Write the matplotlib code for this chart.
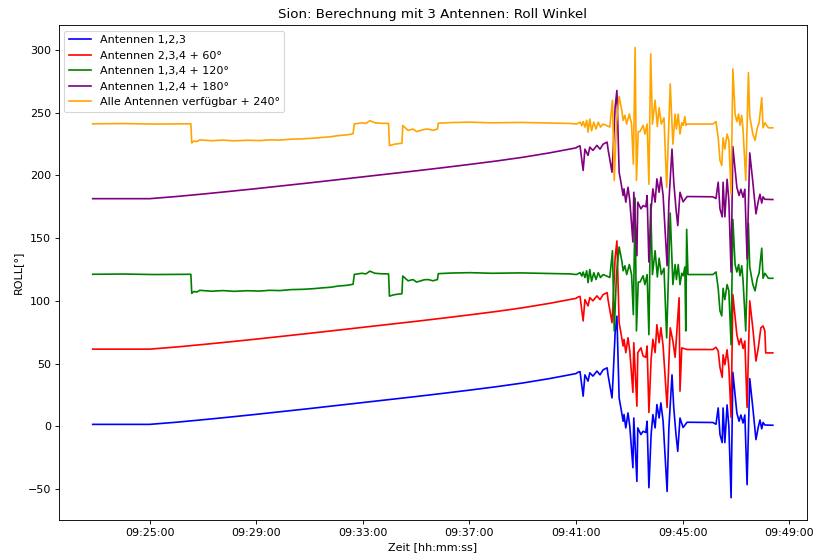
import numpy as np
import pandas as pd
import matplotlib
matplotlib.use("Agg")
import matplotlib.pyplot as plt
import matplotlib.dates as mdates

DAY = "2023-05-12 "

# ruhige Phase (Antennen 1,2,3 / 2,3,4 / 1,2,4 verlaufen gleich)
t_smooth = ["09:22:52", "09:25:00", "09:26:00", "09:27:00", "09:28:00", "09:29:00",
            "09:30:00", "09:31:00", "09:32:00", "09:33:00", "09:34:00", "09:35:00",
            "09:36:00", "09:37:00", "09:38:00", "09:39:00", "09:40:00"]
roll_smooth = [1.5, 1.5, 3.2, 5.2, 7.3, 9.5, 11.8, 14.1, 16.5, 18.9, 21.3, 23.7,
               26.2, 28.8, 31.5, 34.5, 38.0]

# Flugphase ab 09:41
t_a = ["09:41:00", "09:41:04", "09:41:09", "09:41:16", "09:41:20", "09:41:27", "09:41:31",
       "09:41:38", "09:41:47", "09:41:54", "09:42:01", "09:42:10", "09:42:12", "09:42:21",
       "09:42:23", "09:42:28", "09:42:32", "09:42:37", "09:42:41", "09:42:46", "09:42:48",
       "09:42:52", "09:42:57", "09:43:01", "09:43:08", "09:43:10", "09:43:17", "09:43:19",
       "09:43:26", "09:43:31", "09:43:37", "09:43:40", "09:43:44", "09:43:49", "09:43:53",
       "09:43:58", "09:44:02", "09:44:07", "09:44:11", "09:44:16", "09:44:25", "09:44:29",
       "09:44:36", "09:44:40", "09:44:45", "09:44:49", "09:44:54", "09:45:01", "09:45:10",
       "09:46:08", "09:46:15", "09:46:20", "09:46:24", "09:46:29", "09:46:31", "09:46:35",
       "09:46:40", "09:46:44", "09:46:49", "09:46:53", "09:47:02", "09:47:07", "09:47:11",
       "09:47:16", "09:47:20", "09:47:25", "09:47:31", "09:47:38", "09:47:45", "09:47:50",
       "09:47:54", "09:47:58", "09:48:01", "09:48:05", "09:48:23"]
roll_123 = [42.0, 43.0, 43.6, 24.0, 41.0, 36.0, 42.6, 40.0, 44.0, 41.0, 45.0, 46.6, 41.0, 22.6,
            36.0, 74.5, 87.8, 22.6, 14.6, 4.0, 9.3, -1.3, 10.6, 0.0, -33.0, 6.6, -44.0, -1.3,
            -6.6, -4.0, -5.0, 4.0, -49.0, -6.6, 9.3, -1.3, 17.3, 6.6, 18.6, 4.0, -52.0, -1.3,
            41.0, 14.6, -6.6, -20.0, 6.6, -1.0, 3.2, 3.0, 1.6, 14.6, -6.6, -13.0, 14.6, -13.0,
            17.0, 0.0, -57.0, 43.0, 10.6, 4.0, 9.0, 2.6, 9.0, -46.6, 38.0, 14.6, -10.6, -1.0,
            5.0, -2.0, 3.0, 1.0, 0.8]

t_r = t_a[:40] + ["09:44:25", "09:44:32", "09:44:38", "09:44:43", "09:44:47", "09:44:52",
                  "09:44:54", "09:44:58", "09:45:10", "09:46:08", "09:46:15", "09:46:20",
                  "09:46:24", "09:46:29", "09:46:31", "09:46:35", "09:46:40", "09:46:44",
                  "09:46:49", "09:46:53", "09:47:02", "09:47:07", "09:47:11", "09:47:16",
                  "09:47:20", "09:47:25", "09:47:31", "09:47:38", "09:47:45", "09:47:50",
                  "09:47:56", "09:48:01", "09:48:05", "09:48:07", "09:48:23"]
roll_234 = roll_123[:28] + [2.5] + roll_123[29:36] + [21.0] + roll_123[37:40] + [
    -45.0, 18.5, 8.0, -5.0, 16.0, 42.5, -32.0, 2.5, 1.2, 1.2, 3.0, 0.0, -13.0, -21.0, -3.0,
    -11.0, 1.0, -13.0, -53.0, 45.0, 13.0, 5.0, 10.0, 2.0, 8.0, -45.0, 40.0, 18.0, -8.0, 2.0,
    18.5, 20.0, 16.0, -1.5, -1.5]

# Antennen 1,3,4 und alle Antennen: ruhige Phase (beide gleich)
t_b_calm = ["09:22:52", "09:24:00", "09:25:10", "09:26:33", "09:26:35", "09:26:40", "09:26:46",
            "09:26:53", "09:27:20", "09:27:45", "09:28:10", "09:28:40", "09:29:08", "09:29:30",
            "09:29:53", "09:30:20", "09:30:45", "09:31:08", "09:31:30", "09:31:46", "09:32:05",
            "09:32:24", "09:32:38", "09:32:41", "09:32:58", "09:33:07", "09:33:16", "09:33:27",
            "09:33:42", "09:33:58", "09:34:00", "09:34:12", "09:34:28", "09:34:30", "09:34:42",
            "09:34:53", "09:35:01", "09:35:09", "09:35:18", "09:35:27", "09:35:38", "09:35:48",
            "09:35:50", "09:36:20", "09:37:01", "09:37:50", "09:38:54", "09:39:50", "09:40:46"]
roll_b_calm = [1.2, 1.4, 1.0, 1.2, -14.0, -12.5, -13.0, -11.6, -12.3, -11.8, -12.4, -11.9,
               -12.2, -11.6, -11.8, -11.0, -10.8, -10.3, -9.6, -9.2, -8.2, -7.6, -6.8, 1.1,
               2.0, 1.5, 3.7, 2.0, 1.6, 1.5, -16.2, -15.0, -14.3, -0.2, -4.0, -3.0, -5.0, -4.2,
               -3.2, -3.0, -4.0, -3.0, 1.7, 2.2, 2.5, 2.0, 2.3, 1.9, 1.5]

# Flugphase
t_b_fly = ["09:41:01", "09:41:09", "09:41:13", "09:41:16", "09:41:20", "09:41:24", "09:41:27",
           "09:41:31", "09:41:35", "09:41:40", "09:41:45", "09:41:50", "09:41:55", "09:42:01",
           "09:42:09", "09:42:16", "09:42:22", "09:42:26", "09:42:31", "09:42:37", "09:42:43",
           "09:42:46", "09:42:50", "09:42:54", "09:43:00", "09:43:05", "09:43:09", "09:43:13",
           "09:43:16", "09:43:20", "09:43:24", "09:43:31", "09:43:35", "09:43:40", "09:43:44",
           "09:43:48", "09:43:52", "09:43:58", "09:44:03", "09:44:07", "09:44:12", "09:44:18",
           "09:44:24", "09:44:32", "09:44:38", "09:44:43", "09:44:46", "09:44:50", "09:44:54",
           "09:44:58", "09:45:01", "09:45:05", "09:45:07", "09:45:09", "09:45:12", "09:46:08",
           "09:46:15", "09:46:20", "09:46:24", "09:46:28", "09:46:31", "09:46:35", "09:46:40",
           "09:46:44", "09:46:49", "09:46:53", "09:46:58", "09:47:02", "09:47:06", "09:47:09",
           "09:47:13", "09:47:16", "09:47:22", "09:47:28", "09:47:31", "09:47:38", "09:47:43",
           "09:47:48", "09:47:52", "09:47:58", "09:48:01", "09:48:05", "09:48:13", "09:48:23"]
roll_134_fly = [1.0, 2.5, -0.2, 3.0, -1.4, 4.0, -5.5, 5.0, -4.4, 2.5, -3.0, 2.5, -1.4, 1.0,
                -0.2, -1.4, 20.0, -44.0, 1.0, 23.0, 12.0, 4.0, 8.0, 1.0, 9.0, 1.0, -31.0, 62.0,
                -44.0, -5.0, -5.0, 0.0, -7.0, 1.0, -47.0, 57.0, 1.0, 20.0, -1.0, 14.0, 1.0, 6.0,
                -49.5, 50.0, -7.0, 9.0, -3.0, 9.0, -7.0, 2.0, 0.0, 7.0, -44.0, 37.0, 1.0,
                1.0, 3.0, -10.0, -28.0, -32.0, -10.0, -19.0, -7.0, -12.0, -55.0, 45.0, 9.0,
                3.0, 9.0, 0.0, 8.0, -4.0, -44.0, 42.0, 7.0, -7.0, -12.0, -2.0, 2.0, 22.0, -2.0,
                2.0, -2.0, -2.0]
roll_all_fly = [1.0, 2.5, -0.2, 3.0, -1.4, 4.0, -5.5, 5.0, -4.4, 2.5, -3.0, 2.5, -1.4, 1.0,
                -0.2, -1.4, 20.0, -44.0, 1.0, 23.0, 12.0, 4.0, 8.0, 1.0, 9.0, 1.0, -31.0, 62.0,
                -44.0, -5.0, -5.0, 0.0, -7.0, 1.0, -47.0, 57.0, 1.0, 20.0, -1.0, 14.0, 1.0, 6.0,
                -49.5, 33.0, -15.0, 9.0, -3.0, 9.0, -7.0, 2.0, 0.0, 7.0, 0.0, 1.0, 1.0,
                1.0, 3.0, -10.0, -28.0, -32.0, -10.0, -19.0, -7.0, -12.0, -55.0, 45.0, 9.0,
                3.0, 9.0, 0.0, 8.0, -4.0, -44.0, 42.0, 7.0, -7.0, -12.0, -2.0, 2.0, 22.0, -2.0,
                2.0, -2.0, -2.0]


def to_time(times):
    return pd.to_datetime([DAY + t for t in times])


series = [
    ("Antennen 1,2,3", t_smooth + t_a, roll_smooth + roll_123, 0, "blue"),
    ("Antennen 2,3,4 + 60°", t_smooth + t_r, roll_smooth + roll_234, 60, "red"),
    ("Antennen 1,3,4 + 120°", t_b_calm + t_b_fly, roll_b_calm + roll_134_fly, 120, "green"),
    ("Antennen 1,2,4 + 180°", t_smooth + t_a, roll_smooth + roll_123, 180, "purple"),
    ("Alle Antennen verfügbar + 240°", t_b_calm + t_b_fly, roll_b_calm + roll_all_fly, 240,
     "orange"),
]

fig, ax = plt.subplots(figsize=(815 / 80, 557 / 80), dpi=80)
for label, times, roll, offset, color in series:
    ax.plot(to_time(times), np.array(roll) + offset, color=color, label=label)

ax.set_title("Sion: Berechnung mit 3 Antennen: Roll Winkel")
ax.set_ylabel("ROLL[°]")
ax.set_xlabel("Zeit [hh:mm:ss]")
ax.xaxis.set_major_locator(mdates.MinuteLocator(byminute=range(1, 60, 4)))
ax.xaxis.set_major_formatter(mdates.DateFormatter("%H:%M:%S"))
ax.legend(loc="upper left")

plt.subplots_adjust(left=0.072, right=0.990, top=0.955, bottom=0.066)
plt.savefig("out.png")
